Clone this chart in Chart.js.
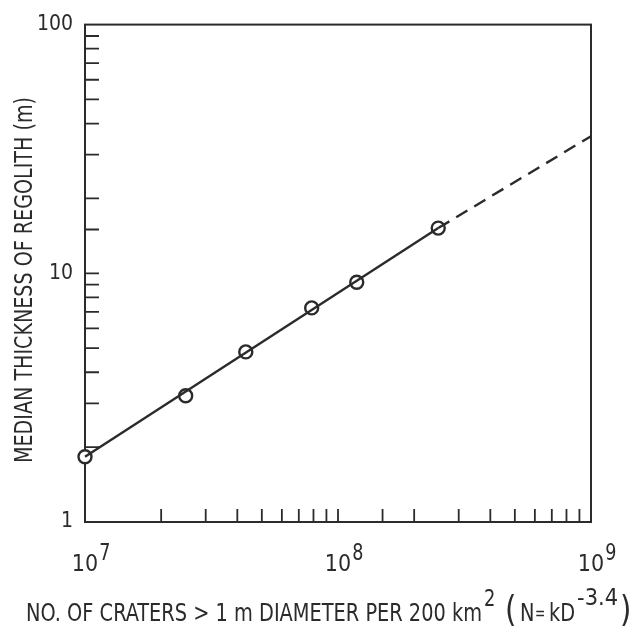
<!DOCTYPE html>
<html><head><meta charset="utf-8">
<script src="https://cdn.jsdelivr.net/npm/chart.js@4"></script>
<style>html,body{margin:0;padding:0;background:#fff;}#wrap{width:637px;height:627px;}</style>
</head><body><div id="wrap"><canvas id="c" width="637" height="627"></canvas></div>
<script>
// ---- data ----
const craterCounts = [1e7, 2.5e7, 4.32e7, 7.87e7, 1.186e8, 2.49e8];
const regolithThickness = [1.83, 3.22, 4.83, 7.26, 9.2, 15.2];
const fitLineX = [1e7, 2.49e8];
const fitLineY = [1.83, 15.2];
const extrapolationX = [2.49e8, 1e9];
const extrapolationY = [15.2, 35.6];
const xTickBase = '10';
const xTickExponents = {7: '7', 8: '8', 9: '9'};
const yTickLabels = {0: '1', 1: '10', 2: '100'};
const xTitleParts = ['NO. OF CRATERS > 1 m DIAMETER PER 200 km', '2', '(', 'N', '=', 'kD', '-3.4', ')'];
const yTitle = 'MEDIAN THICKNESS OF REGOLITH (m)';

const INK = '#2b2b2b';
const FONT = "'Liberation Sans Narrow', 'DejaVu Sans Condensed', sans-serif";

function pairs(xs, ys){ return xs.map((x,i)=>({x:x, y:ys[i]})); }
function decadeOf(v){
  const e = Math.round(Math.log10(v));
  return (Math.abs(v - Math.pow(10,e)) < 1e-6 * v) ? e : null;
}
function drawText(ctx, text, x, y, font, sx){
  ctx.font = font;
  const w = ctx.measureText(text).width;
  sx = sx || 1;
  ctx.save();
  ctx.translate(x, y);
  ctx.scale(sx, 1);
  ctx.fillText(text, 0, 0);
  ctx.restore();
  return x + w * sx;
}
function fitScale(ctx, text, font, targetW){
  ctx.font = font;
  return targetW / ctx.measureText(text).width;
}

const framePlugin = {
  id: 'frame',
  beforeDatasetsDraw(chart){
    const {ctx, chartArea:a, scales} = chart;
    ctx.save();
    ctx.strokeStyle = INK;
    ctx.lineWidth = 2;
    ctx.strokeRect(a.left, a.top, a.right - a.left, a.bottom - a.top);
    ctx.lineWidth = 1.8;
    ctx.beginPath();
    scales.x.ticks.forEach(t => {
      if (t.value <= scales.x.min || t.value >= scales.x.max) return;
      const px = scales.x.getPixelForValue(t.value);
      ctx.moveTo(px, a.bottom); ctx.lineTo(px, a.bottom - 13);
    });
    scales.y.ticks.forEach(t => {
      if (t.value <= scales.y.min || t.value >= scales.y.max) return;
      const py = scales.y.getPixelForValue(t.value);
      ctx.moveTo(a.left, py); ctx.lineTo(a.left + 14, py);
    });
    ctx.stroke();
    ctx.restore();
  },
  afterDraw(chart){
    const {ctx, scales} = chart;
    ctx.save();
    ctx.fillStyle = INK;
    ctx.textBaseline = 'alphabetic';
    ctx.textAlign = 'left';
    // exponents of the x tick labels
    ctx.font = '23px ' + FONT;
    const baseW = ctx.measureText(xTickBase).width;
    scales.x.ticks.forEach(t => {
      const e = decadeOf(t.value);
      if (e === null || xTickExponents[e] === undefined) return;
      const px = scales.x.getPixelForValue(t.value);
      drawText(ctx, xTickExponents[e], px + baseW / 2 + 1, 560, '23px ' + FONT, 0.85);
    });
    // x axis title with superscripts and large parentheses
    const base = 621;
    const mainFont = '25px ' + FONT, supFont = '23px ' + FONT, parFont = '36px ' + FONT;
    const sx = fitScale(ctx, xTitleParts[0], mainFont, 456);
    let x = drawText(ctx, xTitleParts[0], 26, base, mainFont, sx);
    drawText(ctx, xTitleParts[1], x + 2, base - 15, supFont, sx);
    drawText(ctx, xTitleParts[2], 505, base, parFont, 0.9);
    drawText(ctx, xTitleParts[3], 520, base, mainFont, sx);
    drawText(ctx, xTitleParts[4], 535, base - 2, '17px ' + FONT, 0.8);
    x = drawText(ctx, xTitleParts[5], 549, base, mainFont, sx);
    x = drawText(ctx, xTitleParts[6], x + 2, base - 16, supFont, fitScale(ctx, xTitleParts[6], supFont, 41));
    drawText(ctx, xTitleParts[7], x + 2, base, parFont, 0.9);
    // y axis title, rotated
    ctx.save();
    ctx.translate(32, 280);
    ctx.rotate(-Math.PI / 2);
    const yFont = '24px ' + FONT;
    const ysx = fitScale(ctx, yTitle, yFont, 366);
    drawText(ctx, yTitle, -183, 0, yFont, ysx);
    ctx.restore();
    ctx.restore();
  }
};

new Chart(document.getElementById('c'), {
  type: 'line',
  data: {
    datasets: [
      { label: 'fit', data: pairs(fitLineX, fitLineY), borderColor: INK, borderWidth: 2.4, pointRadius: 0, fill: false, clip: false },
      { label: 'extrapolation', data: pairs(extrapolationX, extrapolationY), borderColor: INK, borderWidth: 2.4, borderDash: [13, 8], pointRadius: 0, fill: false, clip: false },
      { label: 'observed', data: pairs(craterCounts, regolithThickness), showLine: false, pointRadius: 6.5, pointBorderWidth: 2.4, pointBackgroundColor: '#ffffff', pointBorderColor: INK, clip: false }
    ]
  },
  options: {
    responsive: false,
    devicePixelRatio: 1,
    animation: false,
    layout: { padding: { top: 22, right: 46, left: 0, bottom: 0 } },
    plugins: { legend: { display: false }, tooltip: { enabled: false } },
    scales: {
      x: {
        type: 'logarithmic', min: 1e7, max: 1e9, position: 'bottom',
        grid: { display: false, drawTicks: false },
        border: { display: false },
        ticks: { autoSkip: false, maxRotation: 0, padding: 29, color: INK,
          font: { family: FONT, size: 23 },
          callback: v => (decadeOf(v) !== null ? xTickBase : '') },
        title: { display: false },
        afterFit: s => { s.height = 105; }
      },
      y: {
        type: 'logarithmic', min: 1, max: 100, position: 'left',
        grid: { display: false, drawTicks: false },
        border: { display: false },
        ticks: { autoSkip: false, padding: 12, color: INK,
          font: { family: FONT, size: 21 },
          callback: v => { const e = decadeOf(v); return (e !== null && yTickLabels[e] !== undefined) ? yTickLabels[e] : ''; } },
        title: { display: false },
        afterFit: s => { s.width = 85; }
      }
    }
  },
  plugins: [framePlugin]
});
</script>
</body></html>
